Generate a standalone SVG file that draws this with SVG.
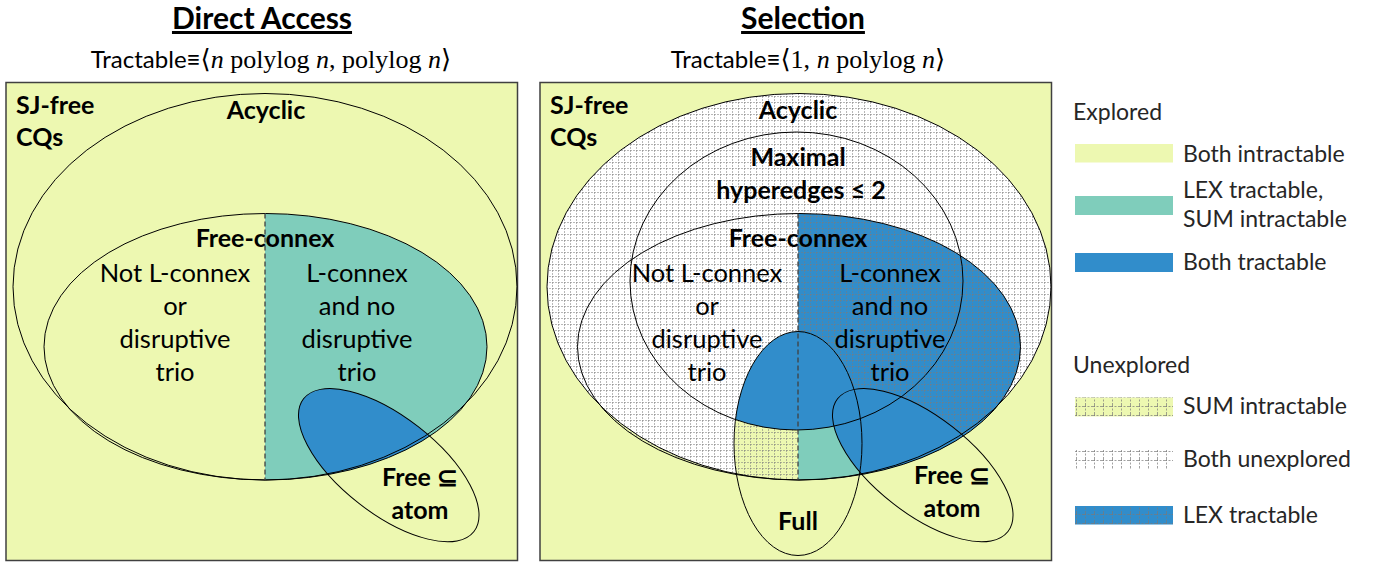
<svg xmlns="http://www.w3.org/2000/svg" width="1378" height="563" viewBox="0 0 1378 563">
<style>
.box{fill:#EDF8B1;stroke:#404040;stroke-width:1.5}
.ol{fill:none;stroke:#000;stroke-width:1}
.dash{stroke:#404040;stroke-width:1.3;stroke-dasharray:5 3}
.b{font-family:Lato,"Liberation Sans",sans-serif;font-weight:bold;font-size:25px;fill:#000}
.c{text-anchor:middle}
.r{font-family:Lato,"Liberation Sans",sans-serif;font-size:25.5px;fill:#000;text-anchor:middle}
.t{font-family:Lato,"Liberation Sans",sans-serif;font-weight:bold;font-size:30px;text-decoration:underline;text-anchor:middle;fill:#000}
.m{font-family:"Liberation Serif","DejaVu Serif",serif;font-size:26px;fill:#000}
.ms{font-family:Lato,"Liberation Sans",sans-serif;font-size:24px}
.lg{font-family:Lato,"Liberation Sans",sans-serif;font-size:23px;fill:#262626}
.yel{fill:#EDF8B1}.teal{fill:#7FCDBB}.blue{fill:#318DCB}
</style>
<defs>
<pattern id="g6" width="6" height="6" patternUnits="userSpaceOnUse">
<path d="M0.5 0V6M0 0.5H6" stroke="#7a7a7a" stroke-opacity="0.6" stroke-width="0.9" stroke-dasharray="2 1" fill="none"/>
</pattern>
<pattern id="g9" width="9" height="9" patternUnits="userSpaceOnUse" x="1075" y="0">
<path d="M1.5 0V9M0 1.5H9" stroke="#7a7a7a" stroke-opacity="0.7" stroke-width="1" stroke-dasharray="2 1.5" fill="none"/>
</pattern>
<clipPath id="cF1"><ellipse cx="265.5" cy="346.75" rx="221.5" ry="133.25"/></clipPath>
<clipPath id="cF2"><ellipse cx="799" cy="346.75" rx="221.5" ry="133.25"/></clipPath>
<clipPath id="cFull"><ellipse cx="798" cy="443.5" rx="64" ry="112"/></clipPath>
<clipPath id="cAF2"><ellipse cx="799" cy="286.75" rx="252" ry="193.25"/><ellipse cx="799" cy="346.75" rx="221.5" ry="133.25"/></clipPath>
</defs>

<g id="title-direct-access">
<text class="t" x="262" y="29">Direct Access</text>
<text x="271" y="68" class="c"><tspan class="ms">Tractable≡</tspan><tspan class="m">⟨<tspan font-style="italic">n</tspan> polylog <tspan font-style="italic">n</tspan>, polylog <tspan font-style="italic">n</tspan>⟩</tspan></text>
</g>

<g id="panel-direct-access">
<rect class="box" x="6" y="82.5" width="511.5" height="478"/>
<g clip-path="url(#cF1)"><rect class="teal" x="265" y="200" width="260" height="290"/></g>
<g clip-path="url(#cF1)"><ellipse class="blue" cx="388.75" cy="465.15" rx="108" ry="48.5" transform="rotate(37.9 388.75 465.15)"/></g>
</g>
<g id="da-acyclic"><ellipse class="ol" cx="265" cy="286.75" rx="252" ry="193.25"/><text class="b c" x="266" y="119">Acyclic</text></g>
<g id="da-sjfree"><text class="b" x="16" y="114">SJ-free</text><text class="b" x="16" y="146">CQs</text></g>
<g id="da-freeconnex"><ellipse class="ol" cx="265.5" cy="346.75" rx="221.5" ry="133.25"/><line class="dash" x1="265" y1="213.5" x2="265" y2="480"/><text class="b c" x="265" y="247">Free-connex</text></g>
<g id="da-notlconnex"><text class="r" x="175" y="282">Not L-connex</text><text class="r" x="175" y="315">or</text><text class="r" x="175" y="348">disruptive</text><text class="r" x="175" y="381">trio</text></g>
<g id="da-lconnex"><text class="r" x="357" y="282">L-connex</text><text class="r" x="357" y="315">and no</text><text class="r" x="357" y="348">disruptive</text><text class="r" x="357" y="381">trio</text></g>
<g id="da-freeatom"><ellipse class="ol" cx="388.75" cy="465.15" rx="108" ry="48.5" transform="rotate(37.9 388.75 465.15)"/><text class="b c" x="420" y="486">Free ⊆</text><text class="b c" x="420" y="519">atom</text></g>

<g id="title-selection">
<text class="t" x="803" y="29">Selection</text>
<text x="808" y="68" class="c"><tspan class="ms">Tractable≡</tspan><tspan class="m">⟨1, <tspan font-style="italic">n</tspan> polylog <tspan font-style="italic">n</tspan>⟩</tspan></text>
</g>

<g id="panel-selection">
<rect class="box" x="540" y="82.5" width="511.5" height="478"/>
<ellipse fill="#fff" cx="799" cy="286.75" rx="252" ry="193.25"/>
<g clip-path="url(#cF2)"><rect class="blue" x="798" y="200" width="260" height="290"/></g>
<g clip-path="url(#cF2)"><g clip-path="url(#cFull)"><rect class="yel" x="720" y="320" width="78" height="170"/></g></g>
<g clip-path="url(#cAF2)"><rect fill="url(#g6)" x="540" y="85" width="512" height="400"/></g>
<g clip-path="url(#cF2)"><g clip-path="url(#cFull)"><rect class="teal" x="798" y="320" width="70" height="170"/></g></g>
<g clip-path="url(#cFull)"><ellipse class="blue" cx="796.5" cy="281" rx="166.5" ry="149"/></g>
<g clip-path="url(#cF2)"><ellipse class="blue" cx="922.75" cy="465.15" rx="108" ry="48.5" transform="rotate(37.9 922.75 465.15)"/></g>
</g>
<g id="sel-acyclic"><ellipse class="ol" cx="799" cy="286.75" rx="252" ry="193.25"/><text class="b c" x="798" y="119">Acyclic</text></g>
<g id="sel-sjfree"><text class="b" x="550" y="114">SJ-free</text><text class="b" x="550" y="146">CQs</text></g>
<g id="sel-maximal"><ellipse class="ol" cx="796.5" cy="281" rx="166.5" ry="149"/><text class="b c" x="798" y="166">Maximal</text><text class="b c" x="801" y="199">hyperedges ≤ 2</text></g>
<g id="sel-freeconnex"><ellipse class="ol" cx="799" cy="346.75" rx="221.5" ry="133.25"/><line class="dash" x1="798" y1="213.5" x2="798" y2="480"/><text class="b c" x="798" y="247">Free-connex</text></g>
<g id="sel-notlconnex"><text class="r" x="707" y="282">Not L-connex</text><text class="r" x="707" y="315">or</text><text class="r" x="707" y="348">disruptive</text><text class="r" x="707" y="381">trio</text></g>
<g id="sel-lconnex"><text class="r" x="890" y="282">L-connex</text><text class="r" x="890" y="315">and no</text><text class="r" x="890" y="348">disruptive</text><text class="r" x="890" y="381">trio</text></g>
<g id="sel-full"><ellipse class="ol" cx="798" cy="443.5" rx="64" ry="112"/><text class="b c" x="798" y="530">Full</text></g>
<g id="sel-freeatom"><ellipse class="ol" cx="922.75" cy="465.15" rx="108" ry="48.5" transform="rotate(37.9 922.75 465.15)"/><text class="b c" x="952" y="484">Free ⊆</text><text class="b c" x="952" y="517">atom</text></g>

<g id="legend">
<text class="lg" x="1073" y="120">Explored</text>
<rect class="yel" x="1075" y="144" width="98" height="18.5"/><text class="lg" x="1183" y="162">Both intractable</text>
<rect class="teal" x="1075" y="196" width="98" height="19"/><text class="lg" x="1183" y="198">LEX tractable,</text><text class="lg" x="1183" y="227">SUM intractable</text>
<rect class="blue" x="1075" y="253" width="98" height="19"/><text class="lg" x="1183" y="270">Both tractable</text>
<text class="lg" x="1073" y="373">Unexplored</text>
<rect class="yel" x="1075" y="397.5" width="98" height="19"/><rect fill="url(#g9)" x="1075" y="397.5" width="98" height="19"/><text class="lg" x="1183" y="414">SUM intractable</text>
<rect fill="#fff" x="1075" y="450" width="98" height="18.5"/><rect fill="url(#g9)" x="1075" y="450" width="98" height="18.5"/><text class="lg" x="1183" y="467">Both unexplored</text>
<rect class="blue" x="1075" y="506" width="98" height="18.5"/><rect fill="url(#g9)" x="1075" y="506" width="98" height="18.5"/><text class="lg" x="1183" y="523">LEX tractable</text>
</g>
</svg>
